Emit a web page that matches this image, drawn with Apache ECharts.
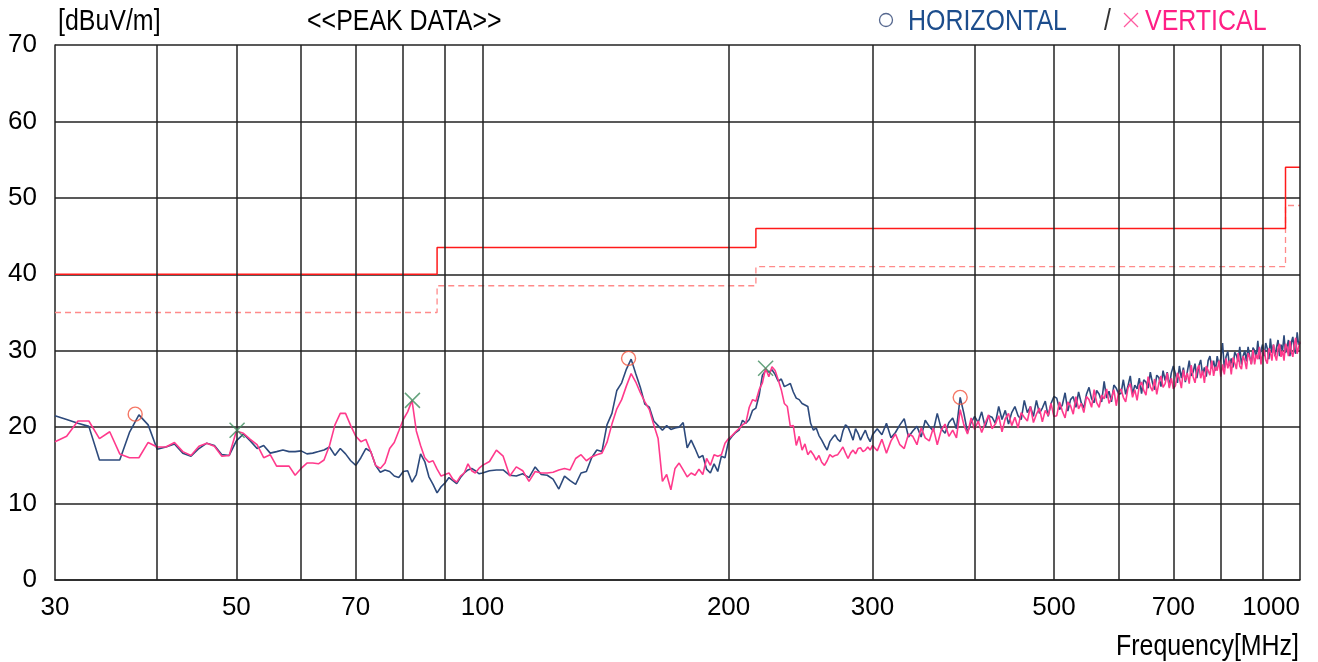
<!DOCTYPE html>
<html>
<head>
<meta charset="utf-8">
<script src="https://cdn.jsdelivr.net/npm/echarts@6/dist/echarts.min.js"></script>
<style>
  html, body { margin: 0; padding: 0; background: #ffffff; }
  #chart { width: 1318px; height: 662px; }
</style>
</head>
<body>
<div id="chart"></div>
<script>
// Radiated emission scan, peak detector, horizontal and vertical antenna polarisation.

// Sweep segments: first frequency and step, in MHz
const SEG_LOW  = { start: 30,  step: 1 };   // 30 .. 99 MHz
const SEG_MID  = { start: 100, step: 2 };   // 100 .. 300 MHz
const SEG_HIGH = { start: 304, step: 4 };   // 304 .. 1000 MHz

// HORIZONTAL levels [dBuV/m]
const H_LOW = [
  21.5, 21.0, 20.5, 20.1, 15.7, 15.7, 15.7, 19.3, 21.6, 20.3,
  17.1, 17.4, 17.8, 16.6, 16.2, 17.2, 17.9, 17.6, 16.4, 16.3,
  18.2, 19.1, 18.2, 17.2, 17.6, 16.6, 16.8, 17.0, 16.8, 16.8,
  16.9, 16.5, 16.6, 16.8, 17.0, 17.4, 16.3, 17.2, 16.5, 15.6,
  15.0, 16.0, 17.2, 16.8, 15.0, 14.1, 14.4, 14.2, 13.6, 13.4,
  14.2, 14.3, 12.8, 13.8, 16.5, 15.5, 13.5, 12.5, 11.4, 12.2,
  12.7, 13.4, 13.0, 12.6, 13.4, 14.0, 14.4, 14.6, 14.3, 13.9
];
const H_MID = [
  14.0, 14.3, 14.4, 14.4, 13.7, 13.6, 13.9, 13.4, 14.8, 13.8,
  13.7, 13.2, 11.9, 13.6, 13.0, 12.5, 14.0, 14.2, 16.0, 17.0,
  16.8, 20.3, 21.8, 24.8, 25.8, 27.6, 28.9, 27.0, 25.2, 23.0,
  22.6, 20.8, 20.2, 19.6, 20.2, 19.7, 19.9, 20.0, 20.6, 17.3,
  18.3, 17.2, 16.0, 16.3, 14.5, 14.0, 15.2, 14.2, 16.2, 16.0,
  18.2, 18.8, 19.3, 19.6, 20.9, 20.5, 21.0, 22.2, 22.5, 24.2,
  26.8, 27.4, 27.2, 27.5, 26.9, 26.0, 26.3, 25.3, 25.5, 25.7,
  24.6, 23.8, 23.6, 23.1, 22.9, 22.7, 20.5, 19.6, 19.9, 18.9,
  18.3, 17.6, 17.0, 18.1, 18.6, 19.0, 18.4, 18.1, 19.5, 20.3,
  20.0, 19.2, 18.3, 19.8, 19.2, 18.3, 19.0, 19.6, 18.7, 18.1,
  19.0
];
const H_HIGH = [
  19.8, 19.0, 20.5, 18.6, 19.3, 20.3, 21.1, 18.7, 19.5, 20.1,
  18.7, 20.9, 20.1, 19.5, 21.8, 19.8, 19.2, 20.6, 21.2, 19.8,
  23.9, 21.8, 19.3, 20.6, 21.4,
  20.6, 22.0, 20.0, 21.5, 21.3, 20.5, 22.7, 21.0, 22.2, 20.4,
  21.9, 22.7, 21.5, 21.0, 23.5, 21.9, 22.7, 21.4, 23.5, 21.8,
  22.5, 23.4, 21.4, 23.1, 24.0,
  23.8, 22.3, 22.9, 24.5, 22.1, 23.6, 24.0, 22.6, 24.6, 23.2,
  22.5, 24.3, 25.2, 23.7, 23.2, 24.8, 24.3, 23.3, 26.0, 23.8,
  24.7, 23.3, 25.5, 25.1, 24.3,
  24.4, 26.2, 24.3, 25.4, 26.7, 24.3, 25.5, 25.0, 26.4, 24.4,
  26.2, 25.9, 25.1, 27.2, 25.8, 24.9, 26.8, 26.5, 25.3, 27.4,
  26.1, 27.2, 25.3, 27.1, 28.0,
  27.0, 25.8, 28.0, 26.4, 27.8, 25.9, 27.2, 28.7, 26.7, 27.2,
  28.3, 26.4, 28.0, 28.8, 26.9, 27.8, 26.6, 28.7, 29.3, 27.7,
  28.7, 27.4, 29.3, 28.1, 29.0,
  31.0, 27.7, 29.2, 29.9, 28.0, 29.0, 27.8, 29.8, 29.4, 28.6,
  30.5, 28.2, 29.3, 30.0, 28.6, 30.5, 29.2, 28.3, 30.4, 30.0,
  29.1, 31.3, 28.9, 30.1, 30.8,
  29.3, 31.0, 30.3, 28.9, 31.6, 29.7, 30.8, 29.3, 30.4, 31.4,
  29.3, 30.8, 30.0, 32.0, 29.7, 30.5, 31.4, 29.3, 31.1, 31.8,
  30.1, 29.6, 32.4, 30.8, 31.0
];

// VERTICAL levels [dBuV/m]
const V_LOW = [
  18.1, 18.8, 20.8, 20.8, 18.5, 19.4, 16.5, 16.0, 16.0, 18.0,
  17.4, 17.4, 18.0, 16.8, 16.3, 17.5, 17.9, 17.5, 16.2, 16.3,
  19.5, 19.2, 18.4, 17.7, 16.0, 16.4, 14.9, 14.9, 14.9, 13.7,
  14.6, 15.3, 15.3, 15.2, 15.7, 17.6, 20.3, 21.8, 21.8, 20.2,
  18.8, 18.1, 18.4, 16.8, 15.0, 14.6, 15.3, 17.2, 18.0, 19.5,
  21.0, 22.0, 23.5, 19.5, 17.6, 16.0, 15.4, 15.6, 14.5, 13.6,
  13.8, 14.0, 13.2, 12.8, 13.6, 14.0, 15.2, 14.3, 14.0, 14.6
];
const V_MID = [
  15.0, 15.5, 17.0, 16.2, 13.6, 14.8, 14.3, 12.9, 14.2, 14.0,
  14.0, 14.1, 14.4, 14.6, 14.4, 15.9, 16.4, 15.6, 16.1, 16.4,
  16.6, 18.0, 20.4, 22.4, 23.6, 25.4, 27.0, 25.9, 24.5, 23.3,
  22.3, 20.3, 18.5, 12.9, 13.8, 11.8, 14.6, 15.3, 14.4, 13.5,
  14.0, 13.7, 14.5, 13.8, 15.9, 15.0, 16.4, 16.2, 16.4, 17.9,
  18.5, 18.9, 19.4, 19.8, 20.3, 20.6, 22.6, 23.6, 23.4, 24.9,
  25.8, 27.7, 26.6, 27.9, 27.4, 26.2, 24.9, 23.1, 22.7, 20.1,
  20.2, 17.6, 18.8, 17.0, 17.8, 16.4, 16.9, 16.4, 15.7, 16.3,
  15.4, 15.0, 15.6, 16.4, 16.1, 16.3, 16.4, 16.9, 17.4, 16.6,
  15.9, 16.6, 17.0, 16.5, 17.2, 17.3, 16.8, 17.0, 17.4, 17.0,
  17.6
];
const V_HIGH = [
  16.9, 18.4, 16.6, 18.2, 19.1, 17.7, 17.2, 19.1, 18.8, 17.7,
  19.9, 18.6, 18.2, 19.9, 17.7, 19.6, 20.4, 18.8, 19.6, 18.6,
  22.3, 20.3, 19.1, 21.2, 19.7,
  20.8, 19.3, 20.5, 21.6, 19.8, 20.4, 21.5, 19.4, 21.1, 21.8,
  20.2, 21.3, 19.9, 21.9, 21.3, 20.8, 22.7, 20.6, 21.7, 22.5,
  20.7, 22.2, 21.5, 23.1, 21.4,
  21.5, 23.3, 22.1, 21.2, 23.3, 22.8, 21.7, 24.0, 22.4, 23.1,
  21.9, 24.0, 23.6, 22.6, 24.9, 23.2, 22.6, 24.2, 23.7, 25.0,
  23.1, 23.8, 24.9, 22.8, 24.6,
  25.0, 23.9, 23.3, 25.1, 25.7, 23.9, 24.9, 23.5, 25.4, 25.9,
  24.8, 24.2, 26.6, 25.3, 24.7, 26.3, 24.3, 25.8, 26.7, 25.2,
  25.7, 27.1, 25.1, 26.4, 25.0,
  25.4, 27.1, 26.4, 25.1, 27.5, 26.1, 27.1, 25.7, 28.1, 26.6,
  25.8, 27.4, 28.1, 26.4, 27.4, 25.8, 28.0, 27.4, 26.8, 28.7,
  26.7, 27.9, 27.4, 28.7, 26.6,
  28.2, 26.9, 29.0, 27.7, 28.7, 26.9, 29.1, 28.4, 27.6, 29.7,
  28.0, 27.6, 29.3, 28.7, 27.6, 29.7, 29.1, 28.2, 30.1, 28.2,
  29.5, 28.9, 30.5, 28.2, 29.8,
  30.1, 28.8, 28.3, 30.3, 29.8, 28.7, 30.8, 29.4, 28.7, 30.3,
  30.9, 29.2, 30.0, 28.7, 30.9, 30.4, 29.3, 31.3, 29.8, 29.2,
  30.8, 31.7, 29.6, 30.4, 31.2
];

// Peak markers
const H_PEAK_FREQ  = [37.6, 150.9, 384];
const H_PEAK_LEVEL = [21.7, 29.0, 23.9];
const V_PEAK_FREQ  = [50.1, 82.1, 222];
const V_PEAK_LEVEL = [19.6, 23.5, 27.7];

// Limit lines: band edges and levels
const LIMIT_EDGES  = [30, 88, 216, 960, 1000];
const LIMIT_LEVEL  = [40, 43.5, 46, 54, 54];
const MARGIN_LEVEL = [35, 38.5, 41, 49, 49];

// Axis ticks
const GRID_FREQS  = [40, 50, 60, 70, 80, 90, 100, 200, 300, 400, 500, 600, 700, 800, 900, 1000];
const FREQ_LABELS = [30, 50, 70, 100, 200, 300, 500, 700, 1000];

const FONT = '"Liberation Sans", Arial, sans-serif';
const TEXT_FONT = '29px ' + FONT;
const NARROW = 0.86;   // horizontal squeeze of the header texts
const C_H = '#2d4a7c';
const C_V = '#ff3a8c';

function sweep(seg, values) {
  return values.map((v, i) => [seg.start + i * seg.step, v]);
}
function pairs(xs, ys) {
  return xs.map((x, i) => [x, ys[i]]);
}
function headerText(x, y, text, fill, align) {
  return {
    type: 'text', x: x, y: y, scaleX: NARROW,
    style: { text: text, font: TEXT_FONT, fill: fill, align: align || 'left', verticalAlign: 'middle' }
  };
}

const hData = [].concat(sweep(SEG_LOW, H_LOW), sweep(SEG_MID, H_MID), sweep(SEG_HIGH, H_HIGH));
const vData = [].concat(sweep(SEG_LOW, V_LOW), sweep(SEG_MID, V_MID), sweep(SEG_HIGH, V_HIGH));

const chart = echarts.init(document.getElementById('chart'), null, { renderer: 'canvas' });

const option = {
  animation: false,
  backgroundColor: '#ffffff',
  textStyle: { fontFamily: FONT },
  grid: { left: 55, right: 18, top: 45, bottom: 82, containLabel: false },
  xAxis: {
    type: 'log',
    logBase: 10,
    min: 30,
    max: 1000,
    axisLine: { show: true, lineStyle: { color: '#222', width: 1.5 } },
    axisTick: { show: false },
    splitLine: { show: false },
    minorSplitLine: { show: false },
    axisLabel: {
      customValues: FREQ_LABELS,
      formatter: (v) => String(Math.round(v)),
      color: '#000',
      fontSize: 26,
      fontFamily: FONT,
      margin: 15,
      alignMaxLabel: 'right'
    }
  },
  yAxis: {
    type: 'value',
    min: 0,
    max: 70,
    interval: 10,
    axisLine: { show: true, lineStyle: { color: '#222', width: 1.5 } },
    axisTick: { show: false },
    splitLine: { show: true, lineStyle: { color: '#222', width: 1.5 } },
    axisLabel: { color: '#000', fontSize: 26, fontFamily: FONT, margin: 18 }
  },
  graphic: [
    headerText(58, 22, '[dBuV/m]', '#000'),
    headerText(307, 22, '<<PEAK DATA>>', '#000'),
    { type: 'circle', shape: { cx: 886, cy: 20, r: 6.5 }, style: { fill: 'none', stroke: '#56688f', lineWidth: 1.3 } },
    headerText(908, 22, 'HORIZONTAL', '#1c4d8c'),
    headerText(1104, 22, '/', '#333'),
    { type: 'line', shape: { x1: 1124, y1: 13, x2: 1138, y2: 27 }, style: { stroke: '#ff5aa0', lineWidth: 1.2 } },
    { type: 'line', shape: { x1: 1138, y1: 13, x2: 1124, y2: 27 }, style: { stroke: '#ff5aa0', lineWidth: 1.2 } },
    headerText(1145, 22, 'VERTICAL', '#ff1f85'),
    headerText(1299, 647, 'Frequency[MHz]', '#000', 'right')
  ],
  series: [
    {
      name: 'grid',
      type: 'line',
      data: [],
      z: 1,
      silent: true,
      markLine: {
        silent: true,
        symbol: ['none', 'none'],
        label: { show: false },
        lineStyle: { color: '#222', width: 1.5, type: 'solid' },
        data: GRID_FREQS.map(f => ({ xAxis: f }))
      }
    },
    {
      name: 'margin',
      type: 'line',
      step: 'end',
      data: pairs(LIMIT_EDGES, MARGIN_LEVEL),
      symbol: 'none',
      z: 2,
      lineStyle: { color: '#ff8a8a', width: 1.3, type: [6, 4] }
    },
    {
      name: 'limit',
      type: 'line',
      step: 'end',
      data: pairs(LIMIT_EDGES, LIMIT_LEVEL),
      symbol: 'none',
      z: 2,
      lineStyle: { color: '#ff1a1a', width: 1.5 }
    },
    {
      name: 'HORIZONTAL',
      type: 'line',
      data: hData,
      symbol: 'none',
      z: 3,
      lineStyle: { color: C_H, width: 1.6 }
    },
    {
      name: 'VERTICAL',
      type: 'line',
      data: vData,
      symbol: 'none',
      z: 4,
      lineStyle: { color: C_V, width: 1.6 }
    },
    {
      name: 'H peaks',
      type: 'scatter',
      data: pairs(H_PEAK_FREQ, H_PEAK_LEVEL),
      symbol: 'circle',
      symbolSize: 14,
      z: 5,
      itemStyle: { color: 'rgba(0,0,0,0)', borderColor: '#f2553f', borderWidth: 1.4 }
    },
    {
      name: 'V peaks',
      type: 'scatter',
      data: pairs(V_PEAK_FREQ, V_PEAK_LEVEL),
      symbol: 'path://M0,0L10,10M10,0L0,10',
      symbolSize: 15,
      z: 5,
      itemStyle: { color: 'rgba(0,0,0,0)', borderColor: '#3f8c5c', borderWidth: 1.5 }
    }
  ]
};

chart.setOption(option);
</script>
</body>
</html>
